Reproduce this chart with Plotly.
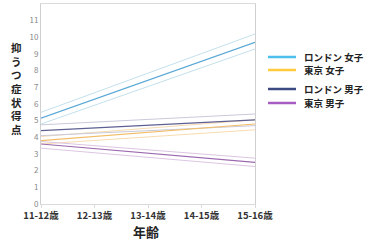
import plotly.graph_objects as go

# Data
age_labels = ["11-12歳", "12-13歳", "13-14歳", "14-15歳", "15-16歳"]
age_pos = [0, 1, 2, 3, 4]
end_pos = [0, 4]

series_names = ["ロンドン 女子", "東京 女子", "ロンドン 男子", "東京 男子"]
# fitted values at 11-12 and 15-16, with upper/lower CI
london_girls = [5.15, 9.7]
london_girls_hi = [5.5, 10.2]
london_girls_lo = [4.8, 9.3]
tokyo_girls = [3.8, 4.8]
tokyo_girls_hi = [4.05, 5.05]
tokyo_girls_lo = [3.6, 4.45]
london_boys = [4.4, 5.05]
london_boys_hi = [4.75, 5.4]
london_boys_lo = [4.1, 4.7]
tokyo_boys = [3.6, 2.5]
tokyo_boys_hi = [3.75, 2.75]
tokyo_boys_lo = [3.35, 2.25]

y_title_chars = ["抑", "う", "つ", "症", "状", "得", "点"]

main_colors = ["#5aa8d6", "#f2bd66", "#5e5f92", "#9c68b0"]
ci_colors = ["#c3e0eb", "#f6dcb0", "#c9c9da", "#dcc6e2"]
legend_colors = ["#4dbfec", "#ffca3e", "#3c4a82", "#a65cc2"]

groups = [
    (london_girls, london_girls_hi, london_girls_lo),
    (tokyo_girls, tokyo_girls_hi, tokyo_girls_lo),
    (london_boys, london_boys_hi, london_boys_lo),
    (tokyo_boys, tokyo_boys_hi, tokyo_boys_lo),
]

fig = go.Figure()
for i, (mid, hi, lo) in enumerate(groups):
    for arr in (hi, lo):
        fig.add_trace(go.Scatter(x=end_pos, y=arr, mode="lines",
                                 line=dict(color=ci_colors[i], width=1),
                                 showlegend=False, hoverinfo="skip"))
for i, (mid, hi, lo) in enumerate(groups):
    fig.add_trace(go.Scatter(x=end_pos, y=mid, mode="lines", name=series_names[i],
                             line=dict(color=main_colors[i], width=1.2),
                             showlegend=False))

FONT = "Noto Sans CJK JP"
L, R, T, B = 41, 110, 4, 36
W, H = 365, 240
pw, ph = W - L - R, H - T - B

def px_x(p):
    return (p - L) / pw

def px_y(p):
    return (H - B - p) / ph

shapes = []
annotations = []
# manual legend
leg_y = [57, 70, 89, 103]
for i, name in enumerate(series_names):
    shapes.append(dict(type="line", xref="paper", yref="paper",
                       x0=px_x(268), x1=px_x(296), y0=px_y(leg_y[i]), y1=px_y(leg_y[i]),
                       line=dict(color=legend_colors[i], width=2.5)))
    annotations.append(dict(xref="paper", yref="paper", x=px_x(302), y=px_y(leg_y[i]),
                            xanchor="left", yanchor="middle", showarrow=False,
                            text="<b>" + name + "</b>",
                            font=dict(family=FONT, size=9.5, color="#222")))

# vertical y-axis title (stacked upright characters)
annotations.append(dict(xref="paper", yref="paper", x=px_x(16), y=px_y(88),
                        xanchor="center", yanchor="middle", showarrow=False,
                        text="<b>" + "<br>".join(y_title_chars) + "</b>",
                        font=dict(family=FONT, size=10.5, color="#222")))
# x-axis title
annotations.append(dict(xref="paper", yref="paper", x=px_x(146), y=px_y(231),
                        xanchor="center", yanchor="middle", showarrow=False,
                        text="<b>年齢</b>", font=dict(family=FONT, size=13, color="#222")))

fig.update_layout(
    width=W, height=H,
    margin=dict(l=L, r=R, t=T, b=B, pad=0),
    paper_bgcolor="white", plot_bgcolor="white",
    showlegend=False,
    font=dict(family=FONT),
    shapes=shapes, annotations=annotations,
    xaxis=dict(range=[0, 4], tickmode="array", tickvals=age_pos,
               ticktext=["<b>" + t + "</b>" for t in age_labels],
               tickfont=dict(family=FONT, size=9.5, color="#333"),
               showgrid=False, zeroline=False, showline=True, mirror=True,
               linecolor="#dadada", linewidth=1,
               ticks="outside", ticklen=3, tickcolor="#dadada"),
    yaxis=dict(range=[0, 12], dtick=1,
               tickfont=dict(family=FONT, size=8, color="#888"),
               showgrid=False, zeroline=False, showline=True, mirror=True,
               linecolor="#cfcfcf", linewidth=1, ticks=""),
)

fig.write_html("out.html")
